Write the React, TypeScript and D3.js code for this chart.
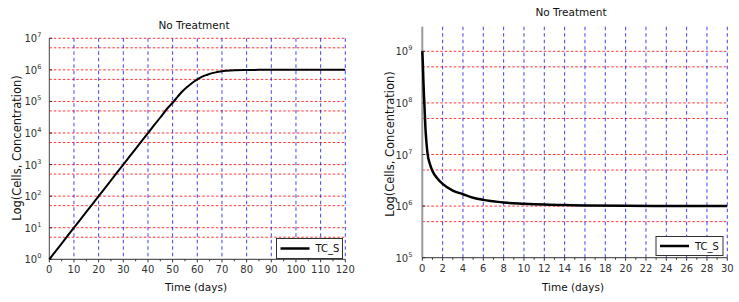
import React from "react";
import * as d3 from "d3";

const chartTitle = "No Treatment";
const xTitle = "Time (days)";
const yTitle = "Log(Cells, Concentration)";
const seriesName = "TC_S";

// Left chart (0-120 days)
const leftDays = [0, 5, 10, 15, 20, 25, 30, 35, 40, 45, 48, 50, 52, 54, 56, 58, 60, 62, 64, 66, 68, 70, 72, 75, 80, 85, 90, 100, 110, 120];
const leftCells = [1, 3.16, 10, 31.6, 100, 316, 1000, 3160, 1e4, 3.1e4, 6.2e4, 9.1e4, 1.4e5, 2.1e5, 2.9e5, 3.9e5, 5e5, 6.1e5, 7e5, 7.9e5, 8.5e5, 9.1e5, 9.4e5, 9.7e5, 9.9e5, 1e6, 1e6, 1e6, 1e6, 1e6];
const leftXTicks = [0, 10, 20, 30, 40, 50, 60, 70, 80, 90, 100, 110, 120];
const leftXMinor = [5, 15, 25, 35, 45, 55, 65, 75, 85, 95, 105, 115];
const leftExps = [0, 1, 2, 3, 4, 5, 6, 7];

// Right chart (0-30 days)
const rightDays = [0, 0.05, 0.1, 0.15, 0.2, 0.25, 0.3, 0.4, 0.5, 0.75, 1, 1.5, 2, 3, 4, 5, 6, 7, 8, 10, 12, 14, 16, 20, 25, 30];
const rightCells = [1e9, 6e8, 3e8, 1.6e8, 1e8, 6e7, 3.5e7, 1.8e7, 1.1e7, 6.5e6, 4.8e6, 3.4e6, 2.7e6, 2.0e6, 1.7e6, 1.45e6, 1.32e6, 1.24e6, 1.17e6, 1.11e6, 1.07e6, 1.05e6, 1.03e6, 1.015e6, 1.005e6, 1.0e6];
const rightXTicks = [0, 2, 4, 6, 8, 10, 12, 14, 16, 18, 20, 22, 24, 26, 28, 30];
const rightXMinor = [1, 3, 5, 7, 9, 11, 13, 15, 17, 19, 21, 23, 25, 27, 29];
const rightExps = [5, 6, 7, 8, 9];

const FONT = "'DejaVu Sans', sans-serif";
const RED = "rgba(255,0,0,0.8)";
const BLUE = "rgba(0,0,255,0.75)";
const TXT = "#333";

type PanelProps = {
  days: number[];
  cells: number[];
  xDomain: [number, number];
  xRange: [number, number];
  yDomain: [number, number];
  yRange: [number, number];
  xTicks: number[];
  xMinor: number[];
  exps: number[];
  yAxisColor: string;
  yAxisWidth: number;
  titleX: number;
  titleY: number;
  yTitleX: number;
  yTitleY: number;
  xTitleX: number;
  xTitleY: number;
  legend: { x: number; y: number; w: number; h: number };
  lineWidth: number;
  labelGap: number;
};

function Panel(p: PanelProps) {
  const x = d3.scaleLinear().domain(p.xDomain).range(p.xRange);
  const y = d3.scaleLog().domain(p.yDomain).range(p.yRange);
  const [x0, x1] = p.xRange;
  const yBottom = p.yRange[0];
  const yTop = p.yRange[1];
  const gridY: number[] = [];
  p.exps.forEach((e) => {
    const v1 = Math.pow(10, e);
    const v5 = 5 * Math.pow(10, e);
    if (v1 > p.yDomain[0] && v1 <= p.yDomain[1]) gridY.push(v1);
    if (v5 > p.yDomain[0] && v5 <= p.yDomain[1]) gridY.push(v5);
  });
  const line = d3
    .line<number>()
    .x((_, i) => x(p.days[i]))
    .y((_, i) => y(p.cells[i]))
    .curve(d3.curveMonotoneX);
  const path = line(p.cells) || "";
  const lg = p.legend;
  return (
    <g>
      {gridY.map((v, i) => (
        <line key={"gy" + i} x1={x0} x2={x1} y1={y(v)} y2={y(v)} stroke={RED} strokeWidth={1} strokeDasharray="2.5,2" />
      ))}
      {p.xTicks.filter((t) => t > p.xDomain[0]).map((t, i) => (
        <line key={"gx" + i} x1={x(t)} x2={x(t)} y1={yTop} y2={yBottom} stroke={BLUE} strokeWidth={1} strokeDasharray="3.5,3" />
      ))}
      {/* y axis */}
      <line x1={x0} x2={x0} y1={yTop} y2={yBottom} stroke={p.yAxisColor} strokeWidth={p.yAxisWidth} />
      {p.exps.map((e, i) => (
        <g key={"yt" + i}>
          <line x1={x0} x2={x0 + 3} y1={y(Math.pow(10, e))} y2={y(Math.pow(10, e))} stroke="#333" strokeWidth={1} />
          <text x={x0 - p.labelGap} y={y(Math.pow(10, e)) + 4} textAnchor="end" fontFamily={FONT} fontSize={10} fill={TXT}>
            10
            <tspan dy={-5} fontSize={6.5}>{e}</tspan>
          </text>
        </g>
      ))}
      {/* x axis */}
      <line x1={x0} x2={x1} y1={yBottom} y2={yBottom} stroke="#333" strokeWidth={1} />
      {p.xTicks.map((t, i) => (
        <g key={"xt" + i}>
          <line x1={x(t)} x2={x(t)} y1={yBottom} y2={yBottom + 3} stroke="#333" strokeWidth={1} />
          <text x={x(t)} y={yBottom + 14} textAnchor="middle" fontFamily={FONT} fontSize={10} fill={TXT}>
            {t}
          </text>
        </g>
      ))}
      {p.xMinor.map((t, i) => (
        <line key={"xm" + i} x1={x(t)} x2={x(t)} y1={yBottom} y2={yBottom + 2} stroke="#333" strokeWidth={1} />
      ))}
      {/* curve */}
      <path d={path} fill="none" stroke="#000" strokeWidth={p.lineWidth} />
      {/* titles */}
      <text x={p.titleX} y={p.titleY} textAnchor="middle" fontFamily={FONT} fontSize={10.5} fill="#111">
        {chartTitle}
      </text>
      <text x={p.xTitleX} y={p.xTitleY} textAnchor="middle" fontFamily={FONT} fontSize={10.5} fill="#111">
        {xTitle}
      </text>
      <text
        transform={`translate(${p.yTitleX},${p.yTitleY}) rotate(-90)`}
        textAnchor="middle"
        fontFamily={FONT}
        fontSize={11.5}
        fill="#111"
      >
        {yTitle}
      </text>
      {/* legend */}
      <rect x={lg.x} y={lg.y} width={lg.w} height={lg.h} fill="#fff" stroke="#333" strokeWidth={1} />
      <line x1={lg.x + 4} x2={lg.x + 33} y1={lg.y + lg.h / 2} y2={lg.y + lg.h / 2} stroke="#000" strokeWidth={2.5} />
      <text x={lg.x + 39} y={lg.y + lg.h / 2 + 3.5} fontFamily={FONT} fontSize={10} fill="#111">
        {seriesName}
      </text>
    </g>
  );
}

export default function App() {
  return (
    <svg
      width={739}
      height={302}
      viewBox="0 0 739 302"
      style={{ position: "absolute", left: 0, top: 0, background: "#fff" }}
    >
      <rect x={0} y={0} width={739} height={302} fill="#fff" />
      <Panel
        days={leftDays}
        cells={leftCells}
        xDomain={[0, 120]}
        xRange={[49.3, 345.3]}
        yDomain={[1, 1e7]}
        yRange={[259.3, 38.3]}
        xTicks={leftXTicks}
        xMinor={leftXMinor}
        exps={leftExps}
        yAxisColor="#444"
        yAxisWidth={1}
        titleX={194}
        titleY={29}
        yTitleX={21}
        yTitleY={148}
        xTitleX={196}
        xTitleY={291}
        legend={{ x: 276.5, y: 238.5, w: 66, h: 20 }}
        lineWidth={2}
        labelGap={8}
      />
      <Panel
        days={rightDays}
        cells={rightCells}
        xDomain={[0, 30]}
        xRange={[422.3, 727.3]}
        yDomain={[1e5, 3e9]}
        yRange={[257.7, 26.7]}
        xTicks={rightXTicks}
        xMinor={rightXMinor}
        exps={rightExps}
        yAxisColor="#999"
        yAxisWidth={2}
        titleX={571}
        titleY={16}
        yTitleX={394}
        yTitleY={144}
        xTitleX={573}
        xTitleY={291}
        legend={{ x: 656, y: 236.5, w: 67, h: 19 }}
        lineWidth={2.5}
        labelGap={10}
      />
    </svg>
  );
}
